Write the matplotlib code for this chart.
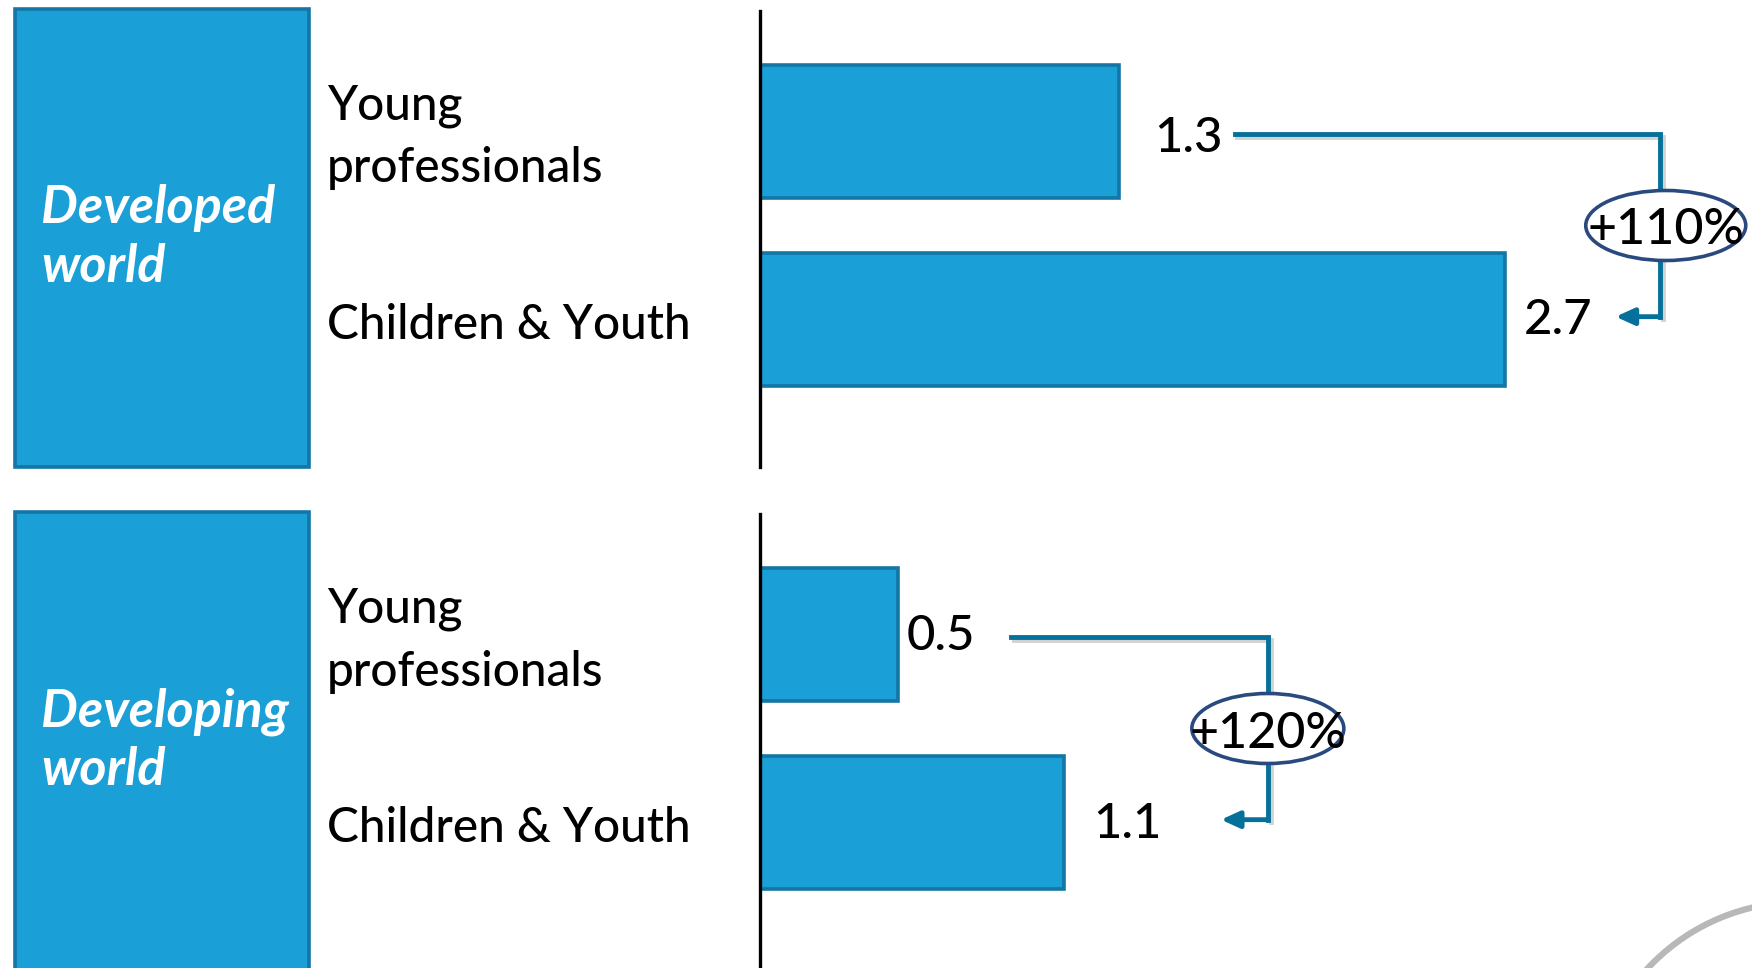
import matplotlib
matplotlib.use("Agg")
import matplotlib.pyplot as plt
import matplotlib.patheffects as pe
from matplotlib.patches import Rectangle, Ellipse, Circle
from matplotlib.transforms import Affine2D

# data
regions = ["Developed\nworld", "Developing\nworld"]
groups = ["Young\nprofessionals", "Children & Youth"]
developed = [1.3, 2.7]
developing = [0.5, 1.1]
growth = ["+110%", "+120%"]

W, H = 1752, 968
BLUE, EDGE = "#1a9fd7", "#1476a4"
LINE, RING = "#05709a", "#2a4a7f"
FONT = "Lato"
WT = 500

fig = plt.figure(figsize=(W / 100, H / 100), dpi=100)
px = Affine2D().scale(1 / W, -1 / H).translate(0, 1) + fig.transFigure  # pixels from top-left
rend = fig.canvas.get_renderer()


def size_for(text, width, **kw):
    t = fig.text(0, 0, text, fontsize=40, family=FONT, **kw)
    w = t.get_window_extent(rend).width
    t.remove()
    return 40 * width / w


FS = size_for("Children & Youth", 363, weight=WT)
FS_BOX = size_for("Developing", 247, weight="bold", style="italic")


def to_px(ax, x, y):
    dx, dy = ax.transData.transform((x, y))
    return dx, H - dy


X0, PPU, STEP = 760, 276, 188   # axis x, pixels per unit, pixels between bars
panel_tops = [9, 512]
label_pad = [[(35, 20), (19, 14)], [(9, 16), (30, 16)]]   # px right / down of bar end
conn = [(1.72, 3.26, 3.10, 6, 160), (0.91, 1.84, 1.67, 0, 152)]

for k, vals in enumerate([developed, developing]):
    top = panel_tops[k]
    ax = fig.add_axes([X0 / W, 1 - (top + 458) / H, (W - X0) / W, 456 / H])
    ax.set_xlim(0, (W - X0) / PPU)
    ax.set_ylim((456 - 120.5) / STEP, -120.5 / STEP)
    ax.barh(range(len(vals)), vals, height=0.705, color=BLUE, edgecolor=EDGE, linewidth=2.6)
    ax.patch.set_alpha(0)
    for s in ["top", "right", "bottom"]:
        ax.spines[s].set_visible(False)
    ax.spines["left"].set_linewidth(2.4)
    ax.spines["left"].set_zorder(5)
    ax.set_xticks([])
    ax.set_yticks([])

    # region box on the left
    fig.add_artist(Rectangle((15, top), 294, 458, transform=px, fc=BLUE, ec=EDGE, lw=2.6))
    for j, line in enumerate(regions[k].split("\n")):
        fig.text(41, top + 229 + 14.5 + (j - 0.5) * 59, line, transform=px, color="white",
                 fontsize=FS_BOX, family=FONT, weight="bold", style="italic", va="baseline")

    # category labels
    for i, g in enumerate(groups):
        cy = to_px(ax, 0, i)[1]
        lines = g.split("\n")
        for j, line in enumerate(lines):
            y = cy + 19.5 + (j - (len(lines) - 1) / 2) * 63
            fig.text(327, y, line, transform=px, fontsize=FS, family=FONT, weight=WT, va="baseline")

    # value labels
    for i, v in enumerate(vals):
        x, y = to_px(ax, v, i)
        dx, dy = label_pad[k][i]
        fig.text(x + dx, y + dy, f"{v:.1f}", transform=px, fontsize=FS * 1.03, family=FONT,
                 weight=WT, va="baseline")

    # growth connector
    start, vert, tip, shift, ring_w = conn[k]
    shadow = [pe.SimpleLineShadow(offset=(2, -2), shadow_color="gray", alpha=0.35), pe.Normal()]
    ax.plot([start, vert, vert], [0.015, 0.015, 0.985], color=LINE, lw=3.5,
            solid_joinstyle="miter", path_effects=shadow, clip_on=False)
    ax.annotate("", xy=(tip, 0.985), xytext=(vert, 0.985), annotation_clip=False,
                arrowprops=dict(arrowstyle="-|>,head_length=0.55,head_width=0.25", mutation_scale=20,
                                color=LINE, lw=3.5, shrinkA=0, shrinkB=0))
    rx, ry = to_px(ax, vert, 0.5)
    fig.add_artist(Ellipse((rx + shift, ry), ring_w, 70, transform=px, fc="white", ec=RING, lw=2.6, zorder=6))
    fig.text(rx + shift, ry + 19, growth[k], transform=px, fontsize=FS * 1.05, family=FONT,
             weight=WT, ha="center", va="baseline", zorder=7)

# faint logo in the corner
fig.add_artist(Circle((1800, 1110), 208, transform=px, fill=False, ec="#8a8a8a", lw=4.5, alpha=0.6))

fig.savefig("out.png", dpi=100)
